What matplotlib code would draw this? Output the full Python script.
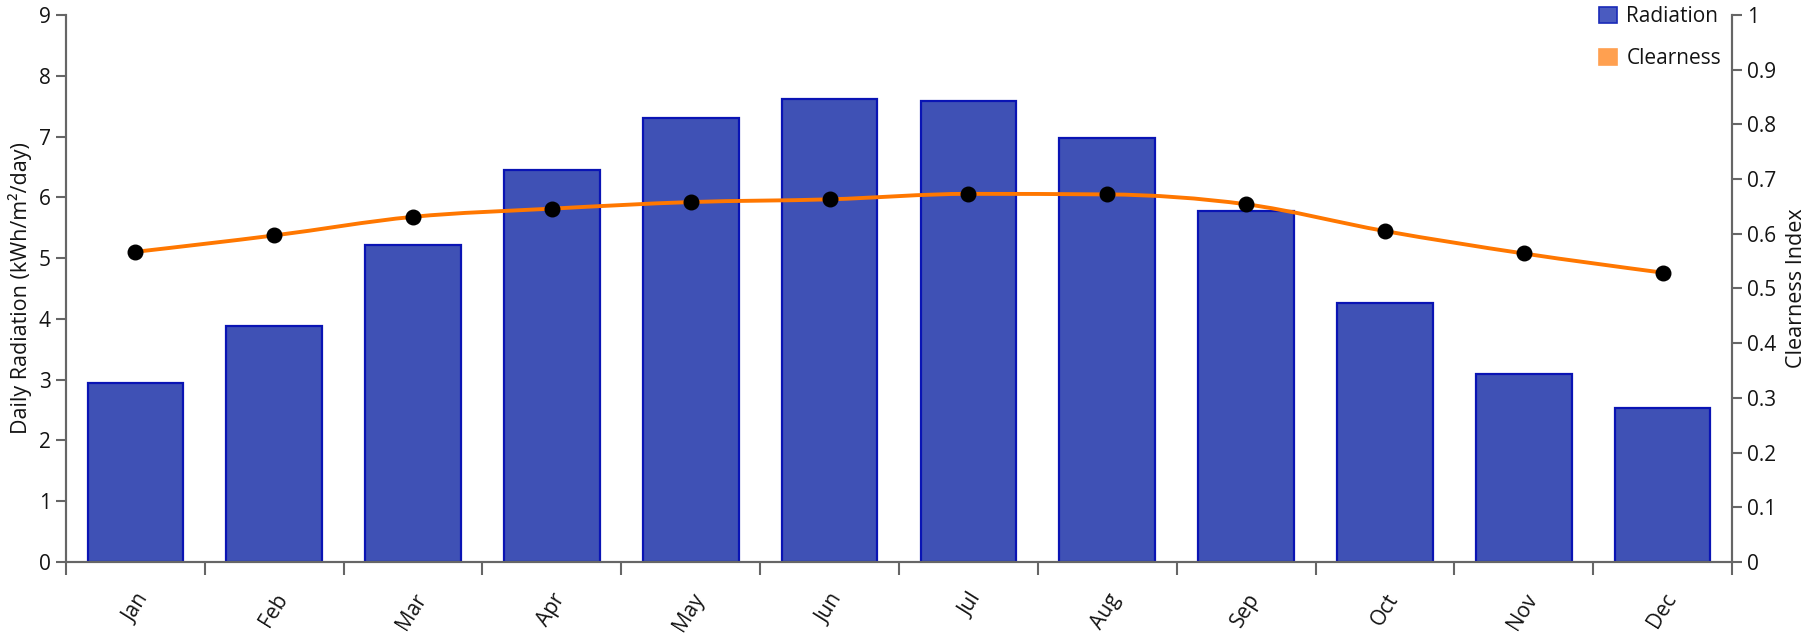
import matplotlib
matplotlib.use("Agg")
import matplotlib.pyplot as plt
from matplotlib.path import Path
from matplotlib.patches import PathPatch, Patch
import numpy as np

plt.rcParams['font.family'] = ['Open Sans', 'DejaVu Sans']

months = ['Jan', 'Feb', 'Mar', 'Apr', 'May', 'Jun',
          'Jul', 'Aug', 'Sep', 'Oct', 'Nov', 'Dec']
radiation = [2.94, 3.88, 5.22, 6.45, 7.31, 7.61, 7.58, 6.97, 5.77, 4.26, 3.09, 2.54]
clearness = [0.567, 0.597, 0.631, 0.646, 0.658, 0.663, 0.673, 0.672, 0.654, 0.605, 0.564, 0.529]

bar_face = '#3f51b5'
bar_edge = '#0a14b4'
line_col = '#ff7700'
axis_col = '#666666'
text_col = '#141414'


def monotone_path(xs, ys):
    # same idea as d3.curveMonotoneX, built as cubic bezier segments
    xs = np.asarray(xs, float)
    ys = np.asarray(ys, float)
    n = len(xs)
    h = np.diff(xs)
    s = np.diff(ys) / h
    t = np.zeros(n)
    for i in range(1, n - 1):
        p = (s[i - 1] * h[i] + s[i] * h[i - 1]) / (h[i - 1] + h[i])
        t[i] = (np.sign(s[i - 1]) + np.sign(s[i])) * min(abs(s[i - 1]), abs(s[i]), 0.5 * abs(p))
    t[0] = (3 * s[0] - t[1]) / 2
    t[-1] = (3 * s[-1] - t[-2]) / 2
    verts = [(xs[0], ys[0])]
    codes = [Path.MOVETO]
    for i in range(n - 1):
        dx = h[i] / 3
        verts += [(xs[i] + dx, ys[i] + dx * t[i]),
                  (xs[i + 1] - dx, ys[i + 1] - dx * t[i + 1]),
                  (xs[i + 1], ys[i + 1])]
        codes += [Path.CURVE4] * 3
    return Path(verts, codes)


fig = plt.figure(figsize=(18.18, 6.33), dpi=100)
ax = fig.add_axes([0.0363, 0.1122, 0.9164, 0.8641])
ax2 = ax.twinx()

x = np.arange(len(months))
ax.bar(x, radiation, width=0.69, color=bar_face, edgecolor=bar_edge,
       linewidth=1.6, zorder=2)

ax.set_xlim(-0.5, len(months) - 0.5)
ax.set_ylim(0, 9)
ax2.set_ylim(0, 1)

ax2.add_patch(PathPatch(monotone_path(x, clearness), facecolor='none',
                        edgecolor=line_col, linewidth=2.8, zorder=3))
ax2.scatter(x, clearness, s=110, color='black', zorder=4)

# category boundaries carry the x ticks, labels sit under bar centres
ax.set_xticks(np.arange(-0.5, len(months), 1.0))
ax.set_xticklabels([])
ax.set_xticks(x, minor=True)
ax.set_xticklabels(months, minor=True, rotation=58, ha='right',
                   rotation_mode='anchor', fontsize=15, color=text_col)
ax.tick_params(axis='x', which='major', length=9, width=1.5, color=axis_col)
ax.tick_params(axis='x', which='minor', length=0, pad=20)

ax.set_yticks(range(0, 10))
ax.tick_params(axis='y', length=7, width=1.5, color=axis_col,
               labelsize=15, labelcolor=text_col, pad=4)
ax2.set_yticks(np.round(np.arange(0, 1.01, 0.1), 1))
ax2.set_yticklabels(['0', '0.1', '0.2', '0.3', '0.4', '0.5',
                     '0.6', '0.7', '0.8', '0.9', '1'])
ax2.tick_params(axis='y', length=7, width=1.5, color=axis_col,
                labelsize=15, labelcolor=text_col, pad=4)

for a in (ax, ax2):
    a.spines['top'].set_visible(False)
    for side in ('left', 'right', 'bottom'):
        a.spines[side].set_color(axis_col)
        a.spines[side].set_linewidth(1.5)

ax.set_ylabel('Daily Radiation (kWh/m²/day)', fontsize=15.5, color=text_col, labelpad=5)
ax2.set_ylabel('Clearness Index', fontsize=15.5, color=text_col, labelpad=7)

handles = [Patch(facecolor='#4a5bc0', edgecolor='#1a2ab8', linewidth=1.2),
           Patch(facecolor='#ffa050', edgecolor='#ffa050', linewidth=1.2)]
leg = ax2.legend(handles, ['Radiation', 'Clearness'], loc='upper right',
                 bbox_to_anchor=(0.9985, 1.031), frameon=False, fontsize=15,
                 handlelength=0.85, handleheight=0.85, handletextpad=0.45,
                 labelspacing=1.0, borderaxespad=0)
for t in leg.get_texts():
    t.set_color(text_col)

fig.savefig('out.png', dpi=100)
